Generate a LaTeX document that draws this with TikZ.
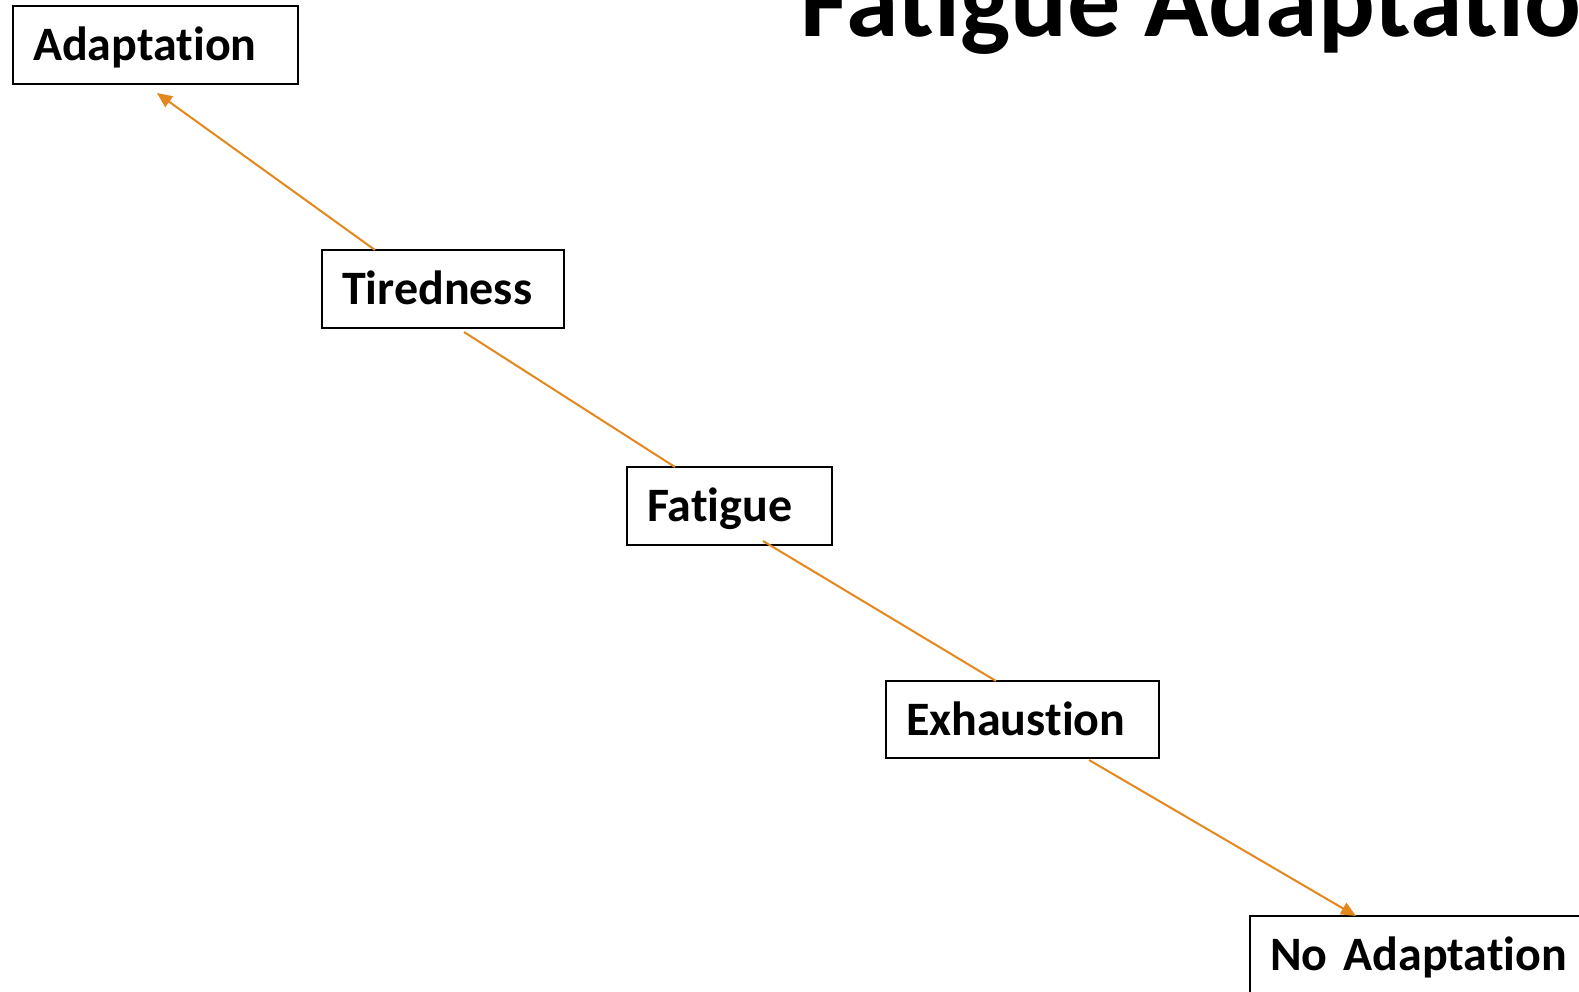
\documentclass[tikz,border=0pt]{standalone}
\usepackage{fontspec}
\setmainfont[Ligatures=NoCommon]{Carlito}
\usepackage{xcolor}
\usetikzlibrary{arrows.meta}

\definecolor{linkorange}{RGB}{228,135,28}

\begin{document}
\begin{tikzpicture}[x=1pt, y=-1pt, >={Triangle[length=15pt,width=13pt]},
  stage/.style={draw=black, line width=2pt, anchor=north west, outer sep=0pt,
    inner xsep=20pt, inner ysep=0pt, minimum height=78pt, align=left,
    font=\fontsize{48}{56}\selectfont\bfseries, text height=31pt, text depth=0pt},
  link/.style={draw=linkorange, line width=2pt}]
  % Page frame
  \clip (0,0) rectangle (1579,991);
  \fill[white] (0,0) rectangle (1579,991);

  % Title (cut by the page edge)
  \node[anchor=base west, inner sep=0pt, font=\fontsize{106}{120}\selectfont\bfseries]
    (title) at (800,36) {Fatigue Adaptatio};

  % Stages, one step down and to the right each time
  \node[stage, text width=245pt] (adapt) at (13,6) {Adaptation};
  \node[stage, text width=202pt] (tired) at (322,250) {Tiredness};
  \node[stage, text width=165pt] (fatig) at (627,467) {Fatigue};
  \node[stage, text width=233pt, minimum height=77pt] (exhau) at (886,681) {Exhaustion};
  \node[stage, text width=360pt] (noadp) at (1250,916) {No Adaptation};

  % Links between the stages
  \draw[link, ->] ([xshift=53pt]tired.north west) -- ([shift={(144,9)}]adapt.south west);
  \draw[link] ([shift={(142,4)}]tired.south west) -- ([xshift=48pt]fatig.north west);
  \draw[link] ([shift={(136,-4)}]fatig.south west) -- ([xshift=110pt]exhau.north west);
  \draw[link, ->] ([shift={(203,2)}]exhau.south west) -- ([xshift=106pt]noadp.north west);
\end{tikzpicture}
\end{document}
